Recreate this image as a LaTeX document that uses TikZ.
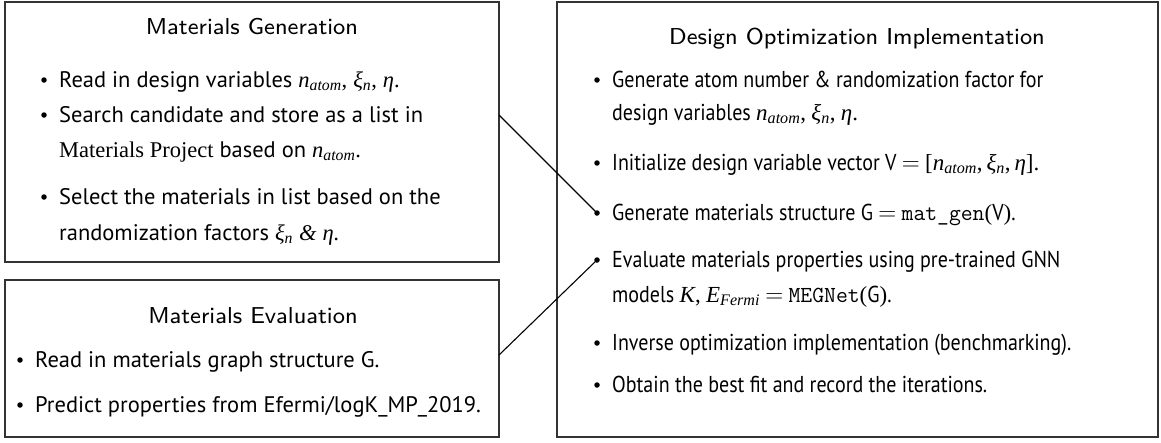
\documentclass[tikz,border=0pt]{standalone}
\usepackage{fontspec}
\setmainfont{PT Sans}
\newfontfamily\tms{Liberation Serif}
\newfontfamily\ptn[FakeStretch=0.87]{PT Sans}
\newfontfamily\ttlf{lmsans8-regular.otf}
\usetikzlibrary{shadows}
\newcommand\ivar[1]{{\tms\itshape #1}}
\newcommand\isub[2]{{\tms\itshape #1\textsubscript{#2}}}
\begin{document}
\begin{tikzpicture}[x=1pt,y=-1pt,
  box/.style={draw=black!80, line width=1.6pt, fill=white, rectangle, inner sep=0pt, outer sep=0pt,
    drop shadow={shadow xshift=1.3pt, shadow yshift=-1.3pt, opacity=0.3, fill=black}},
  ttl/.style={font=\ttlf\fontsize{23}{27}\selectfont, anchor=base, inner sep=0pt},
  txt/.style={font=\fontsize{22.5}{26}\selectfont, anchor=base west, inner sep=0pt},
  txtn/.style={font=\ptn\fontsize{23}{27}\selectfont, anchor=base west, inner sep=0pt},
  bul/.style={circle, fill=black, inner sep=0pt, minimum size=5.5pt},
  link/.style={draw=black, line width=1.1pt}]
\useasboundingbox (0,0) rectangle (1161,442);
% boxes
\node[box, minimum width=494pt, minimum height=260pt] (gen) at (252,132) {};
\node[box, minimum width=494pt, minimum height=157pt] (eva) at (252,358.5) {};
\node[box, minimum width=601pt, minimum height=435pt] (opt) at (857.5,219.5) {};
% Materials Generation
\node[ttl] (gent) at (252,34) {Materials Generation};
\node[bul] (g1b) at (44,80) {};
\node[txt] (g1) at (59,87) {Read in design variables \isub{n}{atom}{\tms,} \isub{ξ}{n}{\tms,} \ivar{η}{\tms.}};
\node[bul] (g2b) at (44,115) {};
\node[txt] (g2) at (59,122) {Search candidate and store as a list in};
\node[txt] (g2c) at (59,157) {{\tms Materials Project} based on \isub{n}{atom}{\tms.}};
\node[bul] (g3b) at (44,197) {};
\node[txt] (g3) at (59,204) {Select the materials in list based on the};
\node[txt] (g3c) at (59,240) {randomization factors \isub{ξ}{n} {\tms\itshape\&} \ivar{η}.};
% Materials Evaluation
\node[ttl] (evat) at (253,323) {Materials Evaluation};
\node[bul] (e1b) at (20,360) {};
\node[txt] (e1) at (35,367) {Read in materials graph structure G.};
\node[bul] (e2b) at (20,405) {};
\node[txt] (e2) at (35,412) {Predict properties from Efermi/logK\_MP\_2019.};
% Design Optimization Implementation
\node[ttl] (optt) at (857,44) {Design Optimization Implementation};
\node[bul] (o1b) at (597,80) {};
\node[txtn] (o1) at (612,87) {Generate atom number \& randomization factor for};
\node[txtn] (o1c) at (612,120) {design variables \isub{n}{atom}{\tms,} \isub{ξ}{n}{\tms,} \ivar{η}{\tms.}};
\node[bul] (o2b) at (597,163) {};
\node[txtn] (o2) at (612,170) {Initialize design variable vector V $=$ {\tms[}\isub{n}{atom}{\tms,}\,\isub{ξ}{n}{\tms,}\,\ivar{η}{\tms].}};
\node[bul] (o3b) at (597,213) {};
\node[txtn] (o3) at (612,220) {Generate materials structure G $=$ \texttt{mat\_gen}{\tms(}V{\tms)}.};
\node[bul] (o4b) at (597,260) {};
\node[txtn] (o4) at (612,267) {Evaluate materials properties using pre-trained GNN};
\node[txtn] (o4c) at (612,302) {models \ivar{K}{\tms,} \isub{E}{Fermi} $=$ \texttt{MEGNet}{\tms(}G{\tms)}.};
\node[bul] (o5b) at (597,343) {};
\node[txtn] (o5) at (612,350) {Inverse optimization implementation (benchmarking).};
\node[bul] (o6b) at (597,385) {};
\node[txtn] (o6) at (612,392) {Obtain the best fit and record the iterations.};
% connectors
\coordinate (gout) at (499,115);
\coordinate (eout) at (499,355);
\draw[link] (gout) -- (o3b.center);
\draw[link] (eout) -- (o4b.center);
\end{tikzpicture}
\end{document}
